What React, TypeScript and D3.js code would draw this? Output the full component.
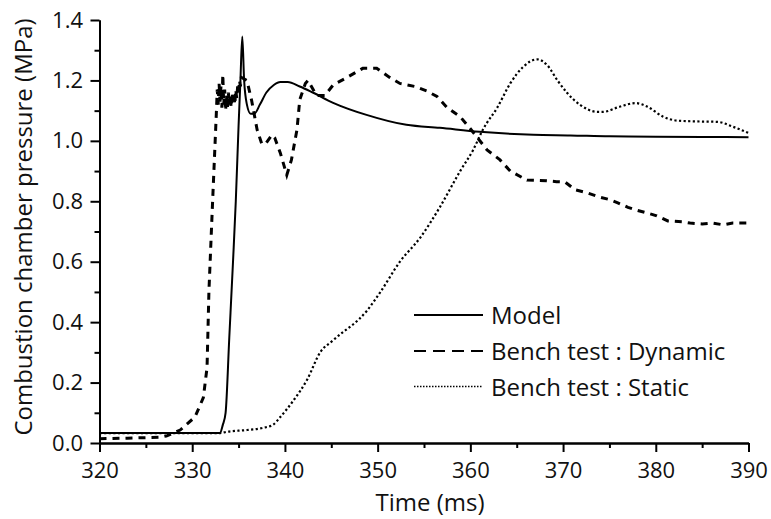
import React, { useEffect, useRef } from "react";
import * as d3 from "d3";

// time (ms) / pressure (MPa)
const modelTime = [320, 333.0, 333.3, 333.6, 334.0, 334.4, 334.7, 335.0, 335.2, 335.4, 335.6, 335.9, 336.3, 336.7, 337.3, 338.0, 338.8, 339.5, 340.3, 341.6, 343.0, 345.2, 348.8, 353.1, 356.7, 361.0, 366.8, 370.8, 375, 380, 385, 390];
const modelPressure = [0.033, 0.033, 0.06, 0.1, 0.35, 0.6, 0.8, 1.05, 1.2, 1.345, 1.2, 1.12, 1.09, 1.09, 1.12, 1.16, 1.185, 1.195, 1.195, 1.18, 1.16, 1.126, 1.086, 1.053, 1.043, 1.03, 1.02, 1.018, 1.015, 1.014, 1.013, 1.012];

const dynamicTime = [320, 323, 326.5, 327.2, 328.7, 330.3, 331.2, 331.6, 331.8, 332.2, 332.6, 332.7, 332.8, 332.9, 333.0, 333.1, 333.2, 333.3, 333.4, 333.5, 333.6, 333.7, 333.8, 333.9, 334.0, 334.1, 334.2, 334.3, 334.4, 334.5, 334.6, 334.7, 334.8, 334.9, 335.0, 335.1, 335.2, 335.3, 335.9, 336.4, 337.0, 337.5, 337.9, 338.6, 338.9, 339.5, 340.2, 340.7, 341.3, 341.6, 342.2, 342.5, 343.4, 344.3, 345.2, 346.7, 348.4, 349.9, 351.3, 352.4, 354.0, 355.3, 356.4, 357.5, 358.9, 360.0, 360.7, 361.8, 363.2, 364.3, 366.1, 368.2, 369.3, 370.2, 371.3, 372.6, 373.8, 375.1, 375.9, 377.0, 378.0, 379.2, 380.1, 381.3, 382.9, 383.7, 385.0, 386.1, 387.3, 388.3, 390];
const dynamicPressure = [0.014, 0.016, 0.019, 0.023, 0.043, 0.086, 0.15, 0.25, 0.5, 0.8, 1.09, 1.17, 1.12, 1.19, 1.13, 1.18, 1.11, 1.22, 1.12, 1.17, 1.1, 1.15, 1.11, 1.16, 1.12, 1.15, 1.11, 1.16, 1.13, 1.15, 1.12, 1.17, 1.14, 1.18, 1.16, 1.2, 1.18, 1.21, 1.2, 1.135, 1.037, 0.99, 0.99, 1.02, 1.01, 0.96, 0.887, 0.937, 1.037, 1.136, 1.19, 1.2, 1.15, 1.15, 1.185, 1.21, 1.24, 1.24, 1.21, 1.19, 1.18, 1.165, 1.147, 1.11, 1.08, 1.04, 1.013, 0.97, 0.937, 0.9, 0.87, 0.868, 0.865, 0.864, 0.838, 0.828, 0.815, 0.805, 0.795, 0.78, 0.77, 0.76, 0.752, 0.735, 0.732, 0.728, 0.725, 0.728, 0.722, 0.728, 0.728];

const staticTime = [320, 333.0, 333.7, 335.9, 337.6, 338.7, 339.5, 340.9, 342.4, 343.8, 345.2, 348.9, 350.3, 352.4, 354.6, 356.7, 358.9, 360.3, 361.4, 362.9, 364.3, 365.7, 367.2, 368.3, 369.4, 370.4, 371.8, 373.7, 374.3, 376.1, 377.8, 379.1, 380.8, 382.3, 384.8, 386.6, 388.3, 390];
const staticPressure = [0.033, 0.033, 0.037, 0.043, 0.05, 0.06, 0.086, 0.14, 0.21, 0.3, 0.34, 0.44, 0.5, 0.6, 0.68, 0.78, 0.9, 0.97, 1.04, 1.11, 1.19, 1.245, 1.27, 1.25, 1.2, 1.16, 1.12, 1.096, 1.096, 1.113, 1.125, 1.113, 1.08, 1.067, 1.064, 1.063, 1.047, 1.026];

const xMajor = [320, 330, 340, 350, 360, 370, 380, 390];
const xMinor = [325, 335, 345, 355, 365, 375, 385];
const yMajor = [0, 0.2, 0.4, 0.6, 0.8, 1.0, 1.2, 1.4];
const yMinor = [0.1, 0.3, 0.5, 0.7, 0.9, 1.1, 1.3];

const legendLabels = ["Model", "Bench test : Dynamic", "Bench test : Static"];

const FONT = "'Open Sans', sans-serif";

const App = () => {
  const myRef = useRef<SVGSVGElement>(null);

  useEffect(() => {
    const svg = d3.select(myRef.current);
    svg.selectAll("*").remove();

    const xScale = d3.scaleLinear().domain([320, 390]).range([99.5, 748.5]);
    const yScale = d3.scaleLinear().domain([0, 1.4]).range([443, 20]);

    const styleAxis = (g: any) => {
      g.select(".domain").attr("stroke", "#000").attr("stroke-width", 2);
      g.selectAll(".tick line").attr("stroke", "#000").attr("stroke-width", 2);
      g.selectAll("text").attr("fill", "#111").style("font-family", FONT).style("font-size", "22px");
    };

    // bottom axis
    svg.append("g").attr("transform", "translate(0,443)")
      .call(d3.axisBottom(xScale).tickValues(xMinor).tickSize(5).tickSizeOuter(0).tickFormat(() => ""))
      .call(styleAxis);
    svg.append("g").attr("transform", "translate(0,443)")
      .call(d3.axisBottom(xScale).tickValues(xMajor).tickSize(9).tickSizeOuter(0).tickPadding(10).tickFormat(d3.format("d")))
      .call(styleAxis);

    // left axis
    svg.append("g").attr("transform", "translate(99.5,0)")
      .call(d3.axisLeft(yScale).tickValues(yMinor).tickSize(5).tickSizeOuter(0).tickFormat(() => ""))
      .call(styleAxis);
    svg.append("g").attr("transform", "translate(99.5,0)")
      .call(d3.axisLeft(yScale).tickValues(yMajor).tickSize(9).tickSizeOuter(0).tickPadding(7.5).tickFormat(d3.format(".1f")))
      .call(styleAxis);

    // axis titles
    svg.append("text")
      .attr("x", 430).attr("y", 511)
      .attr("text-anchor", "middle")
      .style("font-family", FONT).style("font-size", "24px").attr("fill", "#111")
      .text("Time (ms)");
    svg.append("text")
      .attr("transform", "translate(32,227) rotate(-90)")
      .attr("text-anchor", "middle")
      .style("font-family", FONT).style("font-size", "24px").attr("fill", "#111")
      .text("Combustion chamber pressure (MPa)");

    const series = [
      { t: modelTime, p: modelPressure, dash: null, width: 2, curve: d3.curveMonotoneX },
      { t: dynamicTime, p: dynamicPressure, dash: "7,6", width: 3, curve: d3.curveLinear },
      { t: staticTime, p: staticPressure, dash: "2.2,2.4", width: 2.2, curve: d3.curveMonotoneX },
    ];

    series.forEach((s) => {
      const myLine = d3.line<number>()
        .x((value) => xScale(value))
        .y((value, index) => yScale(s.p[index]))
        .curve(s.curve);
      svg.append("path")
        .attr("d", myLine(s.t))
        .attr("fill", "none")
        .attr("stroke", "#000")
        .attr("stroke-width", s.width)
        .attr("stroke-dasharray", s.dash);
    });

    // legend
    const legendY = [315, 351, 386.5];
    const legendDash = [null, "12,7", "1.5,1.5"];
    legendLabels.forEach((label, i) => {
      svg.append("line")
        .attr("x1", 414).attr("x2", 483)
        .attr("y1", legendY[i]).attr("y2", legendY[i])
        .attr("stroke", "#000")
        .attr("stroke-width", i === 2 ? 1.5 : 2)
        .attr("stroke-dasharray", legendDash[i]);
      svg.append("text")
        .attr("x", 491).attr("y", legendY[i] + 9)
        .style("font-family", FONT).style("font-size", "24px").attr("fill", "#111")
        .text(label);
    });
  }, []);

  return (
    <svg
      ref={myRef}
      width={771}
      height={519}
      style={{ position: "absolute", left: 0, top: 0, background: "#fff" }}
    />
  );
};

export default App;
